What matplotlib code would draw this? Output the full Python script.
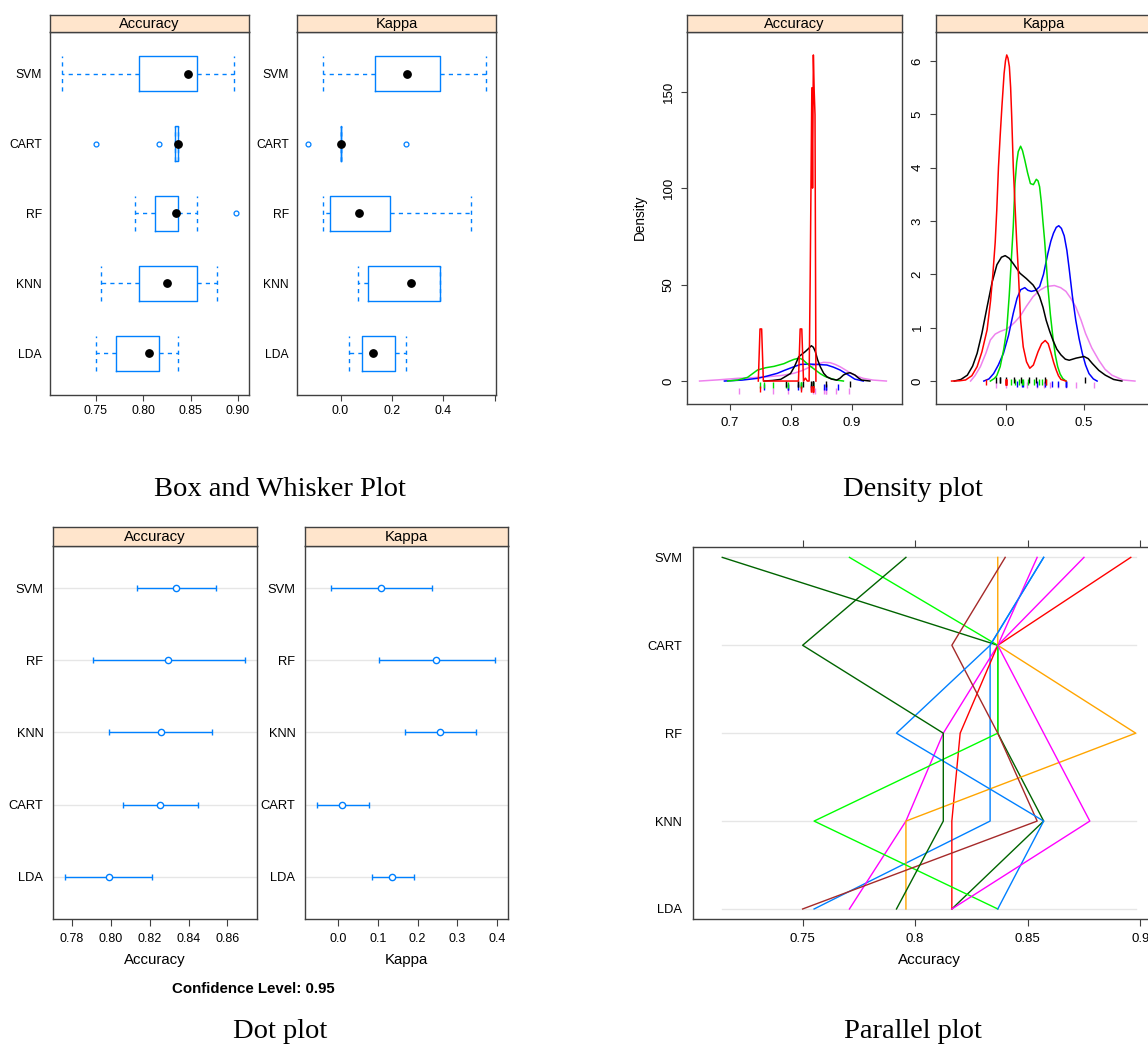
import matplotlib
matplotlib.use("Agg")
import numpy as np
import matplotlib.pyplot as plt
import matplotlib.transforms as mtransforms

plt.rcParams['font.family'] = ['Liberation Sans', 'DejaVu Sans']

W, H = 1148, 1047

# ---------------- data ----------------
# accuracy of each resample fold, fold order is the same in every list
acc_svm = [0.8571, 0.8542, 0.7143, 0.8958, 0.8367, 0.7708, 0.8400, 0.8571, 0.8750, 0.7959]
acc_cart = [0.8333, 0.8367, 0.8367, 0.8367, 0.8367, 0.8367, 0.8163, 0.8333, 0.8367, 0.7500]
acc_rf = [0.8333, 0.8125, 0.8367, 0.8200, 0.8980, 0.8367, 0.8367, 0.7917, 0.8571, 0.8125]
acc_knn = [0.8333, 0.7959, 0.8571, 0.8163, 0.7959, 0.7551, 0.8542, 0.8571, 0.8776, 0.8125]
acc_lda = [0.7551, 0.7708, 0.8163, 0.8163, 0.7959, 0.8367, 0.7500, 0.8367, 0.8163, 0.7917]
fold_colors = ['#0080ff', '#ff00ff', '#006400', '#ff0000', '#ffa500',
               '#00ff00', '#a52a2a', '#0080ff', '#ff00ff', '#006400']

kap_svm = [-0.068, 0.0, 0.135, 0.2, 0.24, 0.28, 0.33, 0.387, 0.45, 0.564]
kap_cart = [-0.127, 0.0, 0.0, 0.0, 0.0, 0.0, 0.0, 0.0, 0.0, 0.253]
kap_rf = [-0.068, -0.039, -0.039, 0.0, 0.05, 0.094, 0.15, 0.194, 0.25, 0.505]
kap_knn = [0.067, 0.1, 0.108, 0.2, 0.25, 0.296, 0.33, 0.387, 0.387, 0.387]
kap_lda = [0.033, 0.06, 0.085, 0.1, 0.11, 0.14, 0.18, 0.21, 0.23, 0.256]

acc = {"SVM": acc_svm, "CART": acc_cart, "RF": acc_rf, "KNN": acc_knn, "LDA": acc_lda}
kap = {"SVM": kap_svm, "CART": kap_cart, "RF": kap_rf, "KNN": kap_knn, "LDA": kap_lda}

box_order = ["LDA", "KNN", "RF", "CART", "SVM"]      # bottom -> top
par_order = ["LDA", "KNN", "RF", "CART", "SVM"]
dot_order = ["LDA", "CART", "KNN", "RF", "SVM"]

# dot plot: mean and 95% confidence interval
dot_acc_mean = [0.7988, 0.8251, 0.8256, 0.8296, 0.8337]
dot_acc_lo = [0.7764, 0.8063, 0.7991, 0.7910, 0.8132]
dot_acc_hi = [0.8213, 0.8450, 0.8521, 0.8688, 0.8543]
dot_kap_mean = [0.1359, 0.0101, 0.2566, 0.2466, 0.1066]
dot_kap_lo = [0.0856, -0.0544, 0.1670, 0.1024, -0.0184]
dot_kap_hi = [0.1897, 0.0780, 0.3480, 0.3960, 0.2357]

# density curves
dens_colors = {"RF": "#000000", "CART": "#ff0000", "LDA": "#00dd00", "KNN": "#0000ff", "SVM": "#ee82ee"}
dacc_x = {
    "RF": [0.756, 0.770, 0.7832, 0.7995, 0.806, 0.813, 0.8239, 0.829, 0.8337, 0.8370, 0.8402, 0.8440, 0.8484, 0.8540,
           0.8592, 0.867, 0.8755, 0.881, 0.8864, 0.8920, 0.8973, 0.9054, 0.9110, 0.9163, 0.9299],
    "CART": [0.7465, 0.7493, 0.7520, 0.7548, 0.8125, 0.8153, 0.8180, 0.8208, 0.8240, 0.8270, 0.8300, 0.8318, 0.8345,
             0.8357, 0.8370, 0.8384, 0.8397, 0.8412],
    "LDA": [0.6962, 0.7125, 0.7288, 0.7370, 0.7451, 0.7587, 0.7723, 0.7886, 0.7970, 0.8049, 0.8100, 0.8153, 0.8200,
            0.8239, 0.8300, 0.8375, 0.8484, 0.8560, 0.8647, 0.8750, 0.8864],
    "KNN": [0.6908, 0.72, 0.7451, 0.76, 0.7777, 0.79, 0.8049, 0.8158, 0.83, 0.8429, 0.8592, 0.87, 0.881, 0.890,
            0.8973, 0.905, 0.919],
    "SVM": [0.65, 0.68, 0.7125, 0.74, 0.7614, 0.785, 0.8049, 0.82, 0.832, 0.843, 0.8538, 0.8647, 0.873, 0.881,
            0.8973, 0.908, 0.919, 0.935, 0.957],
}
dacc_y = {
    "RF": [0, 0.3, 0.86, 3.9, 7.5, 12.6, 15.3, 16.8, 18.3, 17.5, 15.3, 11.0, 7.4, 4.0,
           2.2, 1.0, 0.5, 1.5, 3.1, 4.0, 4.3, 3.1, 1.6, 0.5, 0],
    "CART": [0, 27, 27, 0, 0, 27, 27, 0, 1.5, 0, 0, 54, 152, 100, 169, 150, 138, 0],
    "LDA": [0, 0.5, 1.9, 3.8, 5.7, 6.9, 7.6, 9.0, 10.2, 11.2, 11.6, 11.7, 11.0,
            9.8, 8.2, 6.4, 3.8, 2.4, 1.4, 0.5, 0],
    "KNN": [0, 0.5, 1.4, 2.5, 4.0, 5.6, 7.4, 8.6, 8.8, 8.6, 8.3, 7.2, 5.7, 4.0,
            2.6, 1.0, 0],
    "SVM": [0, 0.6, 1.4, 1.8, 2.2, 2.9, 4.0, 5.6, 7.4, 8.8, 9.7, 9.5, 8.6, 7.4,
            4.3, 2.6, 1.4, 0.5, 0],
}
dkap_x = {
    "RF": [-0.333, -0.29, -0.249, -0.215, -0.186, -0.155, -0.122, -0.09, -0.059, -0.03, -0.006, 0.02, 0.046, 0.07,
           0.089, 0.13, 0.173, 0.195, 0.215, 0.237, 0.257, 0.28, 0.3, 0.325, 0.352, 0.38, 0.405, 0.45, 0.5, 0.527,
           0.553, 0.595, 0.637, 0.69, 0.743],
    "CART": [-0.35, -0.3, -0.26, -0.22, -0.186, -0.155, -0.122, -0.1, -0.085, -0.07, -0.06, -0.049, -0.038, -0.027,
             -0.013, -0.004, 0.004, 0.012, 0.021, 0.029, 0.036, 0.046, 0.057, 0.0675, 0.078, 0.093, 0.11, 0.131,
             0.152, 0.175, 0.205, 0.228, 0.251, 0.27, 0.289, 0.305, 0.321, 0.336, 0.352, 0.384],
    "LDA": [-0.101, -0.075, -0.06, -0.038, -0.015, 0.004, 0.02, 0.036, 0.046, 0.057, 0.068, 0.078, 0.093, 0.105,
            0.12, 0.138, 0.156, 0.175, 0.194, 0.205, 0.215, 0.226, 0.236, 0.247, 0.258, 0.268, 0.284, 0.3, 0.315,
            0.331, 0.347, 0.363, 0.384],
    "KNN": [-0.143, -0.11, -0.08, -0.05, -0.017, 0.015, 0.046, 0.07, 0.093, 0.12, 0.14, 0.162, 0.19, 0.215, 0.24,
            0.268, 0.287, 0.304, 0.322, 0.338, 0.355, 0.373, 0.39, 0.405, 0.425, 0.447, 0.468, 0.489, 0.51, 0.532,
            0.56, 0.584],
    "SVM": [-0.228, -0.2, -0.165, -0.13, -0.101, -0.07, -0.038, 0.0, 0.025, 0.055, 0.089, 0.13, 0.173, 0.215,
            0.257, 0.31, 0.35, 0.384, 0.415, 0.447, 0.48, 0.51, 0.55, 0.595, 0.635, 0.679, 0.75, 0.827],
}
dkap_y = {
    "RF": [0, 0.03, 0.11, 0.28, 0.52, 0.9, 1.39, 1.85, 2.18, 2.32, 2.35, 2.3, 2.2, 2.1,
           2.02, 1.92, 1.8, 1.7, 1.58, 1.38, 1.14, 0.93, 0.77, 0.6, 0.49, 0.41, 0.39, 0.43, 0.46, 0.42,
           0.33, 0.2, 0.11, 0.03, 0],
    "CART": [0, 0.005, 0.02, 0.1, 0.27, 0.55, 0.96, 1.5, 2.0, 2.6, 3.2, 4.01, 4.6, 5.14,
             5.76, 6.0, 6.11, 6.05, 5.89, 5.5, 4.95, 4.01, 3.3, 2.64, 2.08, 1.14, 0.64, 0.36,
             0.24, 0.3, 0.55, 0.7, 0.76, 0.7, 0.52, 0.35, 0.21, 0.1, 0.03, 0],
    "LDA": [0, 0.05, 0.1, 0.27, 0.6, 0.96, 1.6, 2.4, 2.9, 3.7, 4.1, 4.3, 4.4, 4.32,
            4.14, 3.9, 3.7, 3.68, 3.78, 3.75, 3.64, 3.35, 3.0, 2.64, 2.2, 1.77, 1.25, 0.83, 0.5,
            0.27, 0.13, 0.05, 0],
    "KNN": [0, 0.04, 0.14, 0.3, 0.52, 0.85, 1.27, 1.55, 1.71, 1.75, 1.7, 1.68, 1.7, 1.77, 2.0,
            2.39, 2.62, 2.77, 2.88, 2.91, 2.86, 2.72, 2.45, 2.1, 1.6, 1.14, 0.8, 0.52, 0.3, 0.14,
            0.04, 0],
    "SVM": [0, 0.1, 0.27, 0.52, 0.77, 0.88, 0.93, 0.97, 1.02, 1.1, 1.21, 1.4, 1.58, 1.7,
            1.77, 1.79, 1.75, 1.68, 1.55, 1.39, 1.15, 0.89, 0.62, 0.39, 0.22, 0.11, 0.02, 0],
}

BLUE = '#0080ff'
STRIP = '#ffe5cc'
FRAME = '#404040'
GRID = '#e6e6e6'

fig = plt.figure(figsize=(W / 100, H / 100), dpi=100)


def px_axes(x0, y0, x1, y1):
    ax = fig.add_axes([x0 / W, 1 - y1 / H, (x1 - x0) / W, (y1 - y0) / H])
    for s in ax.spines.values():
        s.set_color(FRAME)
        s.set_linewidth(1)
    return ax


def strip(x0, y0, x1, y1, label, fs):
    sax = px_axes(x0, y0, x1, y1)
    sax.set_facecolor(STRIP)
    sax.set_xticks([])
    sax.set_yticks([])
    sax.text(0.5, 0.45, label, ha='center', va='center', fontsize=fs, transform=sax.transAxes)


def fivenum(v):
    v = np.sort(np.asarray(v, dtype=float))
    n = len(v)
    n4 = np.floor((n + 3) / 2) / 2
    d = np.array([1, n4, (n + 1) / 2, n + 1 - n4, n]) - 1
    return 0.5 * (v[np.floor(d).astype(int)] + v[np.ceil(d).astype(int)])


def box_stats(v):
    v = np.asarray(v, dtype=float)
    _, h1, med, h3, _ = fivenum(v)
    iqr = h3 - h1
    ok = (v >= h1 - 1.5 * iqr) & (v <= h3 + 1.5 * iqr)
    return dict(med=med, q1=h1, q3=h3, whislo=v[ok].min(), whishi=v[ok].max(), fliers=v[~ok])


# ================= Box and whisker =================
def box_panel(x0, x1, data, xlim, xticks, xlabels, title):
    ax = px_axes(x0, 32, x1, 395)
    strip(x0, 15, x1, 32, title, 10.5)
    stats = [box_stats(data[m]) for m in box_order]
    pos = np.arange(1, 6)
    ax.bxp(stats, positions=pos, widths=0.5, orientation='horizontal', manage_ticks=False,
           boxprops=dict(color=BLUE, lw=1),
           whiskerprops=dict(color=BLUE, ls=(0, (3, 3)), lw=1),
           capprops=dict(color=BLUE, ls=(0, (3, 3)), lw=1), capwidths=0.5,
           medianprops=dict(visible=False),
           flierprops=dict(marker='o', mfc='none', mec=BLUE, ms=3.5, mew=0.9))
    ax.scatter([s['med'] for s in stats], pos, s=28, color='black', zorder=5)
    ax.set_xlim(*xlim)
    ax.set_ylim(0.4, 5.6)
    ax.set_yticks(pos)
    ax.set_yticklabels(box_order, fontsize=8.7)
    ax.set_xticks(xticks)
    ax.set_xticklabels(xlabels, fontsize=8.9)
    ax.tick_params(axis='y', length=0, pad=6)
    ax.tick_params(axis='x', length=4, pad=3, color=FRAME)


box_panel(50, 249, acc, (0.7016, 0.9116), [0.75, 0.80, 0.85, 0.90], ['0.75', '0.80', '0.85', '0.90'], 'Accuracy')
box_panel(297, 496, kap, (-0.169, 0.604), [0.0, 0.2, 0.4, 0.6], ['0.0', '0.2', '0.4', ''], 'Kappa')

# ================= Density =================
def dens_panel(x0, x1, xs, ys, rugs, xlim, ylim, xticks, xlabels, yticks, title, rug_y):
    ax = px_axes(x0, 32, x1, 404)
    strip(x0, 15, x1, 32, title, 10.5)
    trans = mtransforms.blended_transform_factory(ax.transData, ax.transAxes)
    for k, m in enumerate(["SVM", "KNN", "LDA", "RF", "CART"]):
        ax.plot(xs[m], ys[m], color=dens_colors[m], lw=1.1)
        ax.plot(rugs[m], [rug_y[k]] * len(rugs[m]), ls='none', marker='|', ms=5,
                mew=1, color=dens_colors[m], transform=trans)
    ax.set_xlim(*xlim)
    ax.set_ylim(*ylim)
    ax.set_xticks(xticks)
    ax.set_xticklabels(xlabels, fontsize=9.5)
    ax.set_yticks(yticks)
    ax.set_yticklabels([str(t) for t in yticks], fontsize=9.5, rotation=90, va='center')
    ax.tick_params(length=4, pad=5, color=FRAME)
    return ax


dens_panel(687, 902, dacc_x, dacc_y, acc, (0.6293, 0.9827), (-11.9, 180.9),
           [0.7, 0.8, 0.9], ['0.7', '0.8', '0.9'], [0, 50, 100, 150], 'Accuracy',
           [0.035, 0.045, 0.05, 0.055, 0.04])
dens_panel(936, 1151, dkap_x, dkap_y, kap, (-0.45, 0.93), (-0.43, 6.54),
           [0.0, 0.5], ['0.0', '0.5'], [0, 1, 2, 3, 4, 5, 6], 'Kappa',
           [0.05, 0.055, 0.06, 0.065, 0.058])
fig.text(640 / W, 1 - 217 / H, 'Density', rotation=90, ha='center', va='center', fontsize=9.8)

# ================= Dot plot =================
def dot_panel(x0, x1, mean, lo, hi, xlim, xticks, xlabels, title):
    ax = px_axes(x0, 546, x1, 919)
    strip(x0, 527, x1, 546, title, 10.8)
    pos = np.arange(1, 6)
    for p in pos:
        ax.axhline(p, color=GRID, lw=1, zorder=0)
    mean = np.asarray(mean)
    err = [mean - np.asarray(lo), np.asarray(hi) - mean]
    ax.errorbar(mean, pos, xerr=err, fmt='o', color=BLUE, mfc='white', mec=BLUE,
                ms=4.5, mew=1, elinewidth=1, capsize=2.5, capthick=1)
    ax.set_xlim(*xlim)
    ax.set_ylim(0.41, 5.59)
    ax.set_yticks(pos)
    ax.set_yticklabels(dot_order, fontsize=9.3)
    ax.set_xticks(xticks)
    ax.set_xticklabels(xlabels, fontsize=9)
    ax.tick_params(axis='y', length=0, pad=7)
    ax.tick_params(axis='x', length=5, pad=5, color=FRAME)
    ax.set_xlabel(title, fontsize=10.8, labelpad=6)


dot_panel(53, 257, dot_acc_mean, dot_acc_lo, dot_acc_hi, (0.7702, 0.8752),
          [0.78, 0.80, 0.82, 0.84, 0.86], ['0.78', '0.80', '0.82', '0.84', '0.86'], 'Accuracy')
dot_panel(305, 508, dot_kap_mean, dot_kap_lo, dot_kap_hi, (-0.0838, 0.4277),
          [0.0, 0.1, 0.2, 0.3, 0.4], ['0.0', '0.1', '0.2', '0.3', '0.4'], 'Kappa')
fig.text(253 / W, 1 - 989 / H, 'Confidence Level: 0.95', ha='center', va='center',
         fontsize=10.8, fontweight='bold')

# ================= Parallel plot =================
ax = px_axes(693, 547, 1165, 919)
pos = np.arange(1, 6)
all_acc = np.concatenate([acc[m] for m in par_order])
for p in pos:
    ax.plot([all_acc.min(), all_acc.max()], [p, p], color=GRID, lw=1, zorder=0)
for i, c in enumerate(fold_colors):
    ax.plot([acc[m][i] for m in par_order], pos, color=c, lw=1)
ax.set_xlim(0.7013, 0.911)
ax.set_ylim(0.886, 5.118)
ax.set_yticks(pos)
ax.set_yticklabels(par_order, fontsize=9.3)
ax.set_xticks([0.75, 0.80, 0.85, 0.90])
ax.set_xticklabels(['0.75', '0.8', '0.85', '0.9'], fontsize=9.5)
ax.tick_params(axis='y', length=0, pad=8)
ax.tick_params(axis='x', length=5, pad=5, color=FRAME, top=True)
ax.set_xlabel('Accuracy', fontsize=11, labelpad=6)

# ================= captions =================
cap = dict(ha='center', va='center', fontsize=20.5, family='Liberation Serif')
fig.text(280 / W, 1 - 490 / H, 'Box and Whisker Plot', **cap)
fig.text(913 / W, 1 - 490 / H, 'Density plot', **cap)
fig.text(280 / W, 1 - 1031 / H, 'Dot plot', **cap)
fig.text(913 / W, 1 - 1031 / H, 'Parallel plot', **cap)

fig.savefig('out.png', dpi=100)
